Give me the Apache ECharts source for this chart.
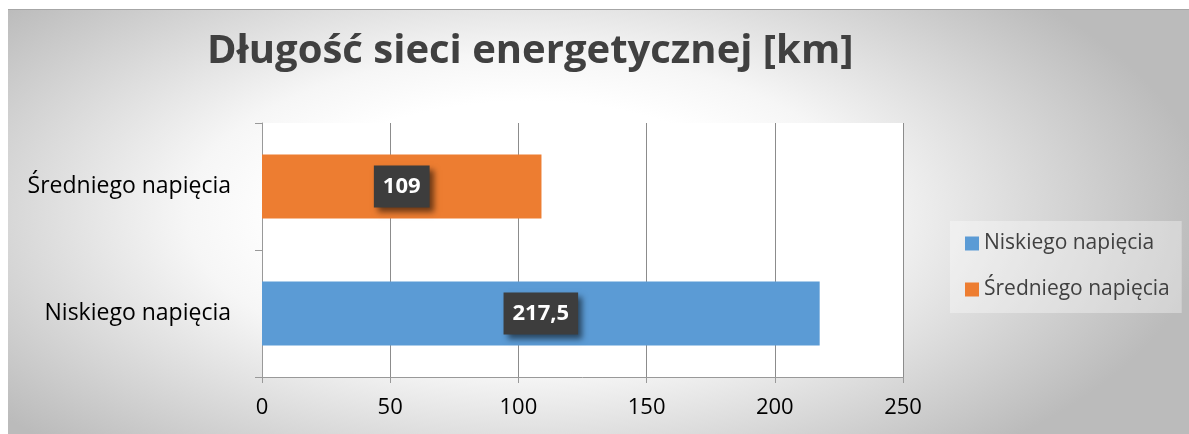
<!DOCTYPE html>
<html lang="pl">
<head>
    <meta charset="UTF-8">
    <title>Długość sieci energetycznej</title>
    <style>
        html, body { margin: 0; padding: 0; background: #fff; }
        .main {
            position: absolute; left: 8px; top: 9px; width: 1181px; height: 425px;
            border-top: 1px solid #a6a6a6; box-sizing: border-box;
            background: radial-gradient(ellipse 680px 320px at 44% 48%, #ffffff 35%, #f6f6f6 50%, #bbbbbb 100%);
        }
    </style>
</head>
<body>
<div class="main"></div>
<script src="https://cdn.jsdelivr.net/npm/echarts@6/dist/echarts.min.js"></script>
<script>
    var categories = ["Niskiego napięcia", "Średniego napięcia"];
    var seriesNames = ["Niskiego napięcia", "Średniego napięcia"];
    var niskiego = [217.5, "-"];
    var sredniego = ["-", 109];
    var xTicks = [0, 50, 100, 150, 200, 250];

    var main = document.querySelector(".main");
    var chart = echarts.init(main);

    var labelStyle = {
        show: true,
        position: "inside",
        color: "#fff",
        fontFamily: "Open Sans",
        fontWeight: "bold",
        fontSize: 22,
        lineHeight: 30,
        backgroundColor: "#3d3d3d",
        padding: [6, 9],
        shadowColor: "rgba(0,0,0,0.55)",
        shadowBlur: 6,
        shadowOffsetX: 4,
        shadowOffsetY: 4,
        formatter: function (p) {
            return String(p.value).replace(".", ",");
        }
    };

    var option = {
        backgroundColor: "transparent",
        title: {
            text: "Długość sieci energetycznej [km]",
            left: 194,
            top: 17,
            textStyle: { fontFamily: "Open Sans", fontWeight: "bold", fontSize: 40, color: "#404040" }
        },
        legend: {
            orient: "vertical",
            left: 942,
            top: 211,
            padding: [12, 12, 13, 15],
            backgroundColor: "rgba(255,255,255,0.35)",
            itemWidth: 14,
            itemHeight: 14,
            itemGap: 25,
            icon: "rect",
            textStyle: { fontFamily: "Open Sans", fontSize: 21, color: "#404040" },
            data: seriesNames
        },
        grid: {
            left: 254, width: 641, top: 113, height: 254,
            show: true, backgroundColor: "#ffffff", borderWidth: 0
        },
        xAxis: {
            type: "value", min: 0, max: 250, interval: 50,
            axisLine: { show: true, lineStyle: { color: "#999" } },
            axisTick: { show: true, length: 6, lineStyle: { color: "#999" } },
            splitLine: { lineStyle: { color: "#8c8c8c" } },
            axisLabel: {
                margin: 20, color: "#000", fontFamily: "Open Sans", fontSize: 22,
                formatter: function (v) { return xTicks.indexOf(v) >= 0 ? String(v) : ""; }
            }
        },
        yAxis: {
            type: "category", data: categories,
            axisLine: { show: true, lineStyle: { color: "#999" } },
            axisTick: { show: true, length: 7, lineStyle: { color: "#999" } },
            axisLabel: { margin: 31, color: "#000", fontFamily: "Open Sans", fontSize: 23 }
        },
        series: [
            {
                name: seriesNames[0], type: "bar", stack: "all", data: niskiego,
                barWidth: 64, itemStyle: { color: "#5b9bd5" }, label: labelStyle
            },
            {
                name: seriesNames[1], type: "bar", stack: "all", data: sredniego,
                barWidth: 64, itemStyle: { color: "#ed7d31" }, label: labelStyle
            }
        ]
    };

    chart.setOption(option);
    window.onresize = chart.resize;
</script>
</body>
</html>
